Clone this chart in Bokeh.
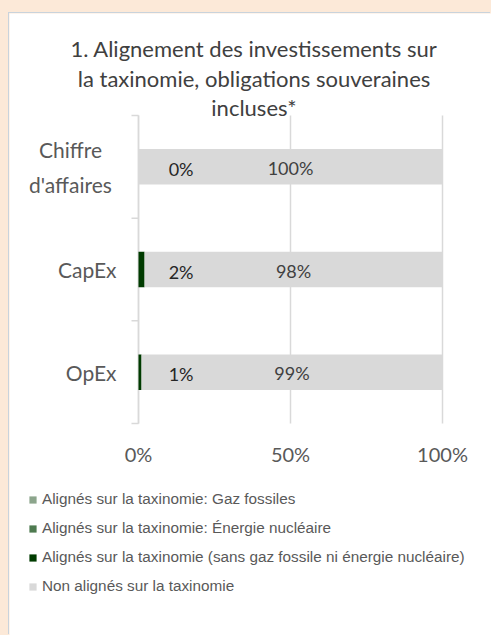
import numpy as np
from bokeh.plotting import figure
from bokeh.models import ColumnDataSource, Range1d, Legend, LegendItem
from bokeh.layouts import column
from bokeh.core.properties import value
from bokeh.embed import file_html
from bokeh.resources import INLINE

# ---------------- data ----------------
title_lines = ["1. Alignement des investissements sur",
               "la taxinomie, obligations souveraines",
               "incluses*"]
categories = ["Chiffre\nd'affaires", "CapEx", "OpEx"]          # top to bottom
alignes_hors_gaz_nuc = [0, 2, 1]
gaz_fossiles = [0, 0, 0]
energie_nucleaire = [0, 0, 0]
non_alignes = [100, 98, 99]
x_ticks = [0, 50, 100]
x_tick_labels = ["0%", "50%", "100%"]
legend_names = ["Alignés sur la taxinomie: Gaz fossiles",
                "Alignés sur la taxinomie: Énergie nucléaire",
                "Alignés sur la taxinomie (sans gaz fossile ni énergie nucléaire)",
                "Non alignés sur la taxinomie"]

# ---------------- styles ----------------
C_GAZ = "#8CA58C"
C_NUC = "#4E7A50"
C_HORS = "#003B00"
C_NON = "#D9D9D9"
GRID = "#D9D9D9"
TXT = "#595959"
FONT = "Lato"
LEG_FONT = "Liberation Sans"

W, H = 482, 622                 # white panel (figure) size
PLOT_L, PLOT_R = 129, 433       # chart area in figure pixels
PLOT_T, PLOT_B = 102, 410

n = len(categories)
XMIN, XMAX = 0, 100
px_x = (PLOT_R - PLOT_L) / (XMAX - XMIN)
px_y = (PLOT_B - PLOT_T) / n
x_range = Range1d(XMIN - PLOT_L / px_x, XMAX + (W - PLOT_R) / px_x)
y_range = Range1d(0 - (H - PLOT_B) / px_y, n + PLOT_T / px_y)

y = [n - i - 0.5 for i in range(n)]

a = np.array(alignes_hors_gaz_nuc, float)
g = np.array(gaz_fossiles, float)
nu = np.array(energie_nucleaire, float)
na = np.array(non_alignes, float)

src = ColumnDataSource(dict(
    y=y,
    a0=np.zeros(n), a1=a,
    g0=a, g1=a + g,
    n0=a + g, n1=a + g + nu,
    na0=a + g + nu, na1=a + g + nu + na,
    small_lbl=[f"{v:g}%" for v in alignes_hors_gaz_nuc],
    big_lbl=[f"{v:g}%" for v in non_alignes],
    big_x=(a + g + nu) + na / 2.0,
))

p = figure(width=W, height=H, x_range=x_range, y_range=y_range,
           x_axis_type=None, y_axis_type=None,
           output_backend="svg", toolbar_location=None,
           min_border=0)
p.outline_line_color = None
p.background_fill_color = "white"
p.border_fill_color = "white"

# vertical gridlines limited to the chart area
p.segment(x0=x_ticks, y0=[0] * len(x_ticks), x1=x_ticks, y1=[n] * len(x_ticks),
          line_color=GRID, line_width=1.5)

# y axis line and boundary ticks
p.segment(x0=[XMIN], y0=[0], x1=[XMIN], y1=[n], line_color=GRID, line_width=1.5)
bounds_y = list(range(n + 1))
TICK = 7
p.ray(x=[XMIN] * len(bounds_y), y=bounds_y, length=TICK, length_units="screen",
      angle=np.pi, line_color=GRID, line_width=1.5)

BAR_H = 0.345
r_hors = p.hbar(y="y", left="a0", right="a1", height=BAR_H, source=src,
                fill_color=C_HORS, line_color=None)
r_gaz = p.hbar(y="y", left="g0", right="g1", height=BAR_H, source=src,
               fill_color=C_GAZ, line_color=None)
r_nuc = p.hbar(y="y", left="n0", right="n1", height=BAR_H, source=src,
               fill_color=C_NUC, line_color=None)
r_non = p.hbar(y="y", left="na0", right="na1", height=BAR_H, source=src,
               fill_color=C_NON, line_color=None)

# data labels
SMALL_LBL_X = 14
src.data["small_x"] = [SMALL_LBL_X] * n
p.text(x="small_x", y="y", text="small_lbl", source=src, text_align="center",
       text_baseline="middle", text_font=value(FONT), text_font_size="18px",
       text_color="#262626", y_offset=2)
p.text(x="big_x", y="y", text="big_lbl", source=src, text_align="center",
       text_baseline="middle", text_font=value(FONT), text_font_size="18px",
       text_color="#404040", y_offset=1)

# x tick labels
p.text(x=x_ticks, y=[0] * len(x_ticks), text=x_tick_labels, y_offset=30,
       text_align="center", text_baseline="middle", text_font=value(FONT),
       text_font_size="20px", text_color=TXT)

# category labels
single = [i for i, c in enumerate(categories) if "\n" not in c]
multi = [i for i, c in enumerate(categories) if "\n" in c]
p.text(x=[XMIN] * len(single), y=[y[i] for i in single],
       text=[categories[i] for i in single], x_offset=-22,
       text_align="right", text_baseline="middle", text_font=value(FONT),
       text_font_size="21px", text_color=TXT)
p.text(x=[XMIN] * len(multi), y=[y[i] for i in multi],
       text=[categories[i] for i in multi], x_offset=-68,
       text_align="center", text_baseline="middle", text_font=value(FONT),
       text_font_size="21px", text_color=TXT, text_line_height=1.4)

# title
TITLE_CX = 38
p.text(x=[TITLE_CX] * len(title_lines), y=[n] * len(title_lines), text=title_lines,
       y_offset=[-67 + 29.5 * i for i in range(len(title_lines))],
       text_align="center", text_baseline="middle", text_font=value(FONT),
       text_font_size="22px", text_color="#404040")

# legend
items = [LegendItem(label=legend_names[0], renderers=[r_gaz]),
         LegendItem(label=legend_names[1], renderers=[r_nuc]),
         LegendItem(label=legend_names[2], renderers=[r_hors]),
         LegendItem(label=legend_names[3], renderers=[r_non])]
leg = Legend(items=items, location=(19, 39), orientation="vertical",
             glyph_width=9, glyph_height=9, label_height=20, label_standoff=5,
             spacing=9, padding=0, margin=0, border_line_color=None,
             background_fill_alpha=0, label_text_font=LEG_FONT,
             label_text_font_size="15.3px", label_text_color=TXT)
p.add_layout(leg, "center")

layout = column(p, styles={"background-color": "#FCE9D8",
                           "padding": "13px 0px 0px 9px"})
p.styles = {"box-shadow": "-1px -1px 0px #C9D3DC"}

open("out.html", "w").write(file_html(layout, INLINE))
